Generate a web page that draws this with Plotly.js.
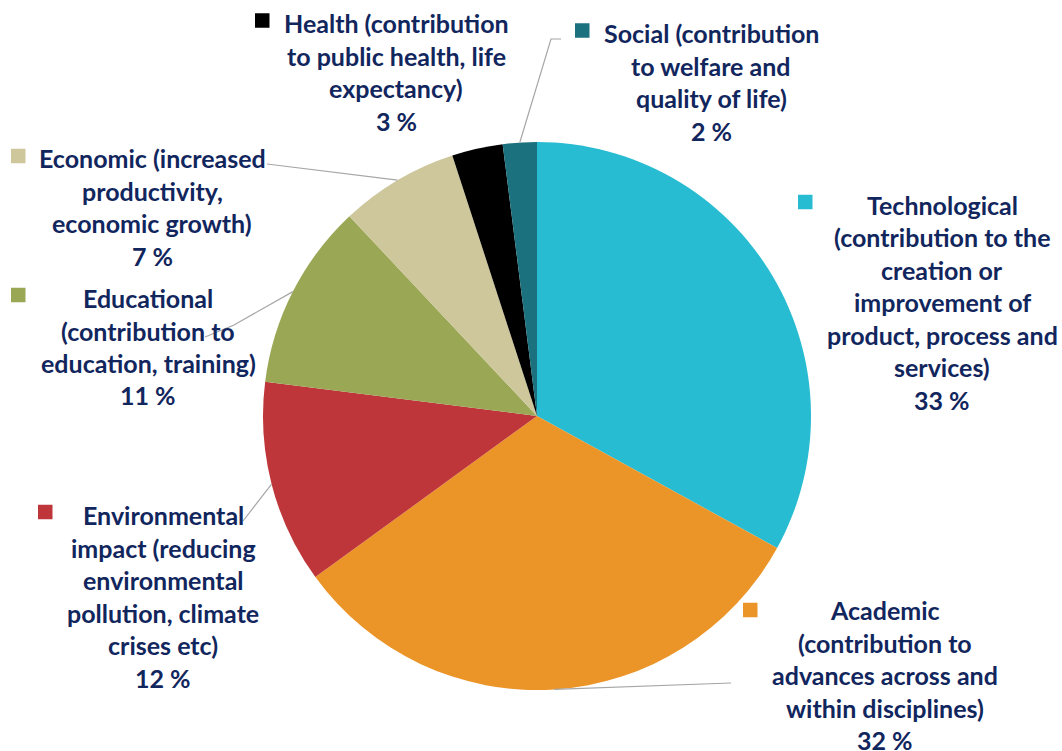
<!DOCTYPE html>
<html>
<head>
<meta charset="utf-8">
<script src="https://cdn.plot.ly/plotly-3.0.1.min.js"></script>
<style>html,body{margin:0;padding:0;background:#fff;}#chart{width:1062px;height:751px;}</style>
</head>
<body>
<div id="chart"></div>
<script>
// ---- data ----
const categories = ["Technological", "Academic", "Environmental", "Educational", "Economic", "Health", "Social"];
const values = [33, 32, 12, 11, 7, 3, 2];
const colors = ["#27BCD2", "#EB9528", "#BE3639", "#9AA755", "#CEC79C", "#000000", "#1C717F"];
const labelLines = [
  ["Technological", "(contribution to the", "creation or", "improvement of", "product, process and", "services)"],
  ["Academic", "(contribution to", "advances across and", "within disciplines)"],
  ["Environmental", "impact (reducing", "environmental", "pollution, climate", "crises etc)"],
  ["Educational", "(contribution to", "education, training)"],
  ["Economic (increased", "productivity,", "economic growth)"],
  ["Health (contribution", "to public health, life", "expectancy)"],
  ["Social (contribution", "to welfare and", "quality of life)"]
];

// ---- layout (pixels) ----
const W = 1062, H = 751;
const cx = 537, cy = 416, R = 274;
const textColor = "#12265E";
const fontFamily = "Lato, 'Open Sans', sans-serif";
const fontSize = 25;
const lineStep = 32.5;
// label block: text center x, first line center y, legend square left x, square center y
const labelPos = [
  {x: 942, y: 205, sq: 798, sqy: 202},
  {x: 885, y: 610, sq: 743, sqy: 610},
  {x: 163, y: 515, sq: 38, sqy: 512},
  {x: 148, y: 298, sq: 11, sqy: 295},
  {x: 152, y: 158, sq: 11, sqy: 156},
  {x: 396, y: 23, sq: 255, sqy: 20.5},
  {x: 711, y: 33, sq: 575, sqy: 30.5}
];
// leader line paths (after the point on the pie edge), null = none
const leaderEnds = [
  null,
  [[731, 683]],
  [[243, 521]],
  [[234, 325], [205, 337]],
  [[267, 164]],
  null,
  [[551, 39], [561, 39]]
];

const px = x => x / W;
const py = y => 1 - y / H;

const total = values.reduce((a, b) => a + b, 0);
const annotations = [];
const shapes = [];
let cum = 0;
values.forEach((v, i) => {
  const mid = (cum + v / 2) / total * 2 * Math.PI;
  cum += v;
  const p = labelPos[i];
  const lines = labelLines[i].concat([v + " %"]);
  lines.forEach((t, k) => {
    annotations.push({
      xref: "paper", yref: "paper",
      x: px(p.x), y: py(p.y + k * lineStep),
      xanchor: "center", yanchor: "middle",
      text: "<b>" + t + "</b>", showarrow: false,
      font: {family: fontFamily, size: fontSize, color: textColor}
    });
  });
  shapes.push({
    type: "rect", xref: "paper", yref: "paper",
    x0: px(p.sq), x1: px(p.sq + 14.5),
    y0: py(p.sqy - 7.25), y1: py(p.sqy + 7.25),
    fillcolor: colors[i], line: {width: 0}
  });
  if (leaderEnds[i]) {
    const sx = cx + R * Math.sin(mid), sy = cy - R * Math.cos(mid);
    let path = "M" + px(sx) + "," + py(sy);
    leaderEnds[i].forEach(q => { path += " L" + px(q[0]) + "," + py(q[1]); });
    shapes.push({
      type: "path", xref: "paper", yref: "paper", path: path,
      line: {color: "#A6A6A6", width: 1.2}
    });
  }
});

const trace = {
  type: "pie",
  labels: categories,
  values: values,
  marker: {colors: colors, line: {width: 0}},
  sort: false,
  direction: "clockwise",
  rotation: 0,
  textinfo: "none",
  hoverinfo: "label+percent",
  domain: {x: [px(cx - R), px(cx + R)], y: [py(cy + R), py(cy - R)]}
};

const layout = {
  width: W, height: H,
  margin: {l: 0, r: 0, t: 0, b: 0},
  paper_bgcolor: "#ffffff",
  showlegend: false,
  annotations: annotations,
  shapes: shapes
};

Plotly.newPlot("chart", [trace], layout, {displayModeBar: false, staticPlot: true});
</script>
</body>
</html>
